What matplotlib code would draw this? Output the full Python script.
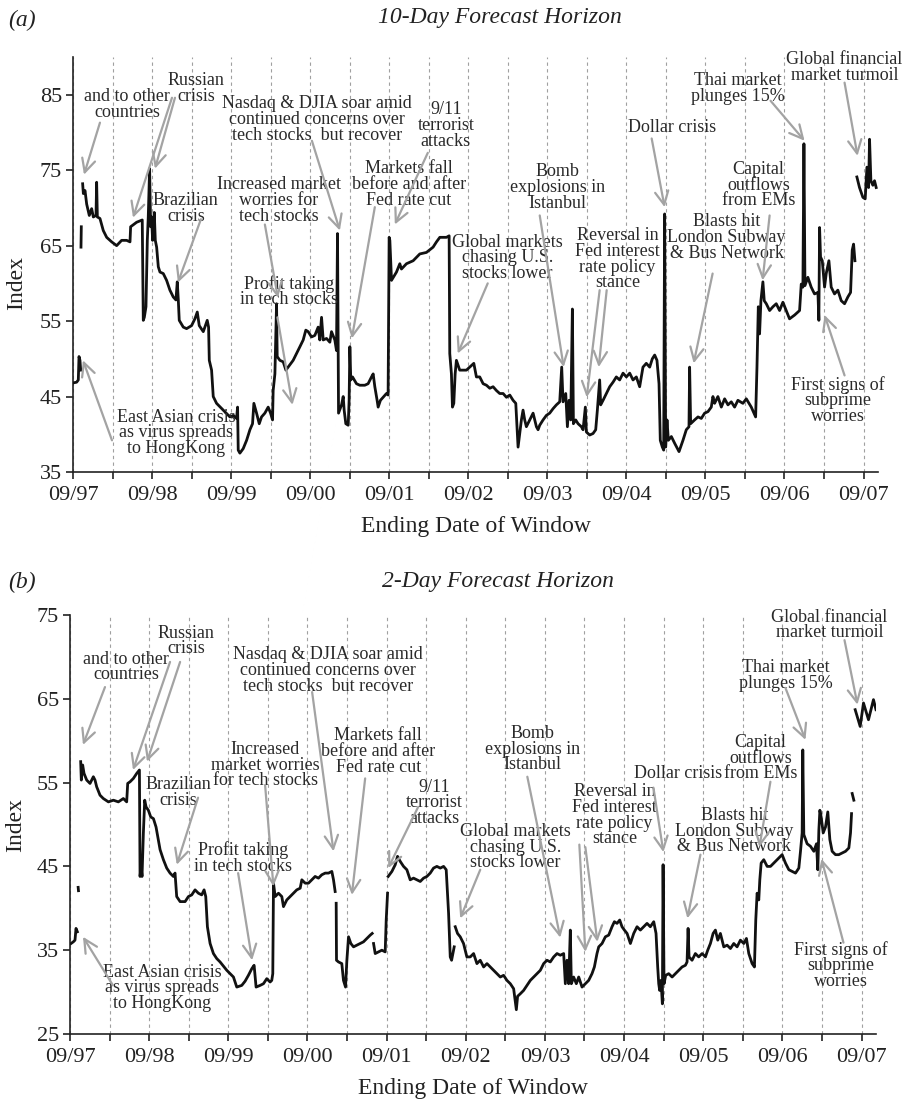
import numpy as np
import matplotlib
matplotlib.use("Agg")
import matplotlib.pyplot as plt

plt.rcParams['font.family'] = ['Liberation Serif', 'DejaVu Serif']

nan = np.nan

# ---- panel (a): 10-day forecast horizon, decimal year / index value ----
a_year = [1997.663, 1997.713, 1997.734, 1997.743, 1997.755, 1997.764, nan,
          1997.768, 1997.772, nan,
          1997.789, 1997.798, 1997.819, 1997.840, 1997.873, 1997.903, 1997.924, 1997.958, 1997.966, 1997.975,
          1998.008, 1998.050, 1998.093, 1998.156, 1998.219, 1998.282, 1998.345, 1998.388, 1998.396, 1998.472,
          1998.543, 1998.556, 1998.569, 1998.590, 1998.607, 1998.619, 1998.636, 1998.649, 1998.661, 1998.674,
          1998.695, 1998.708, 1998.725, 1998.746, 1998.767, 1998.809, 1998.851, 1998.893, 1998.935, 1998.969,
          1998.986, 1998.999, 1999.011, 1999.062, 1999.104, 1999.167, 1999.209, 1999.239, 1999.264, 1999.315,
          1999.365, 1999.382, 1999.391, 1999.420, 1999.441, 1999.483, 1999.567, 1999.652, 1999.694, 1999.736,
          1999.749, 1999.757, 1999.778, 1999.820, 1999.863, 1999.905, 1999.938, 1999.955, 1999.989, 2000.023,
          2000.052, 2000.094, 2000.136, 2000.166, 2000.191, 2000.199, 2000.221, 2000.242, 2000.250, 2000.284,
          2000.326, 2000.360, 2000.410, 2000.452, 2000.495, 2000.537, 2000.579, 2000.612, 2000.642, 2000.684,
          2000.726, 2000.768, 2000.789, 2000.811, 2000.832, 2000.874, 2000.916, 2000.937, 2000.979, 2001.000,
          2001.013, 2001.026, 2001.064, 2001.085, 2001.097, 2001.118, 2001.148, 2001.160, 2001.169, 2001.181,
          2001.203, 2001.253, 2001.295, 2001.358, 2001.400, 2001.443, 2001.464, 2001.485, 2001.514, 2001.527,
          2001.556, 2001.590, 2001.632, 2001.653, 2001.662, 2001.666, 2001.675, 2001.696, 2001.759, 2001.801,
          2001.822, 2001.885, 2001.970, 2002.054, 2002.138, 2002.222, 2002.265, 2002.307, 2002.391, 2002.425,
          2002.433, 2002.454, 2002.467, 2002.484, 2002.501, 2002.517, 2002.559, 2002.644, 2002.686, 2002.737,
          2002.770, 2002.812, 2002.855, 2002.897, 2002.939, 2002.981, 2003.023, 2003.065, 2003.108, 2003.150,
          2003.192, 2003.234, 2003.268, 2003.297, 2003.318, 2003.339, 2003.360, 2003.381, 2003.402, 2003.445,
          2003.487, 2003.529, 2003.550, 2003.571, 2003.613, 2003.655, 2003.697, 2003.740, 2003.782, 2003.824,
          2003.849, 2003.866, 2003.900, 2003.921, 2003.942, 2003.963, 2003.984, 2003.997, 2004.026, 2004.056,
          2004.098, 2004.119, 2004.148, 2004.161, 2004.203, 2004.245, 2004.279, 2004.300, 2004.329, 2004.342,
          2004.372, 2004.414, 2004.456, 2004.498, 2004.540, 2004.582, 2004.625, 2004.667, 2004.709, 2004.751,
          2004.793, 2004.835, 2004.877, 2004.919, 2004.962, 2004.995, 2005.025, 2005.054, 2005.080, 2005.096,
          2005.122, 2005.139, 2005.151, 2005.164, 2005.181, 2005.198, 2005.236, 2005.278, 2005.333, 2005.383,
          2005.425, 2005.459, 2005.467, 2005.480, 2005.530, 2005.573, 2005.615, 2005.657, 2005.699, 2005.741,
          2005.762, 2005.783, 2005.825, 2005.868, 2005.910, 2005.952, 2005.994, 2006.036, 2006.078, 2006.141,
          2006.184, 2006.247, 2006.302, 2006.319, 2006.336, 2006.352, 2006.369, 2006.394, 2006.411, 2006.437,
          2006.479, 2006.521, 2006.563, 2006.605, 2006.647, 2006.689, 2006.731, 2006.795, 2006.858, 2006.879,
          2006.900, 2006.913, 2006.926, 2006.963, 2007.005, 2007.047, 2007.090, 2007.102, 2007.111, 2007.123,
          2007.145, 2007.174, 2007.195, 2007.229, 2007.258, 2007.300, 2007.342, 2007.385, 2007.427, 2007.469,
          2007.503, 2007.524, 2007.541, 2007.558, nan,
          2007.583, 2007.616, 2007.659, 2007.688, 2007.710, 2007.731, 2007.743, 2007.760, 2007.785, 2007.806,
          2007.827]
a_val = [46.8, 46.9, 47.2, 50.3, 49.8, 48.5, nan,
         64.8, 67.5, nan,
         73.2, 71.9, 72.3, 70.5, 69.0, 69.9, 68.8, 69.0, 73.4, 68.8,
         68.6, 67.0, 66.1, 65.5, 65.0, 65.7, 65.7, 65.5, 67.5, 68.1,
         68.4, 55.1, 55.5, 56.9, 65.7, 68.8, 75.2, 67.5, 68.8, 65.7,
         69.4, 65.7, 64.8, 62.2, 61.5, 61.3, 60.4, 59.1, 58.2, 57.8,
         60.2, 57.8, 55.1, 54.2, 54.0, 54.4, 55.3, 56.2, 54.4, 53.6,
         55.1, 54.2, 49.8, 48.5, 45.0, 44.1, 43.2, 42.3, 42.5, 42.1,
         43.6, 37.9, 37.5, 38.1, 39.2, 40.6, 41.4, 44.1, 42.8, 41.4,
         42.3, 42.8, 43.6, 42.8, 41.9, 45.8, 48.0, 57.3, 50.3, 49.8,
         49.6, 48.5, 49.2, 49.8, 50.7, 51.6, 52.5, 53.8, 53.6, 52.9,
         53.1, 54.2, 52.5, 55.5, 52.5, 52.7, 52.2, 53.6, 52.5, 51.1,
         66.6, 42.8, 43.9, 45.0, 43.2, 41.4, 41.2, 44.5, 51.6, 47.2,
         47.6, 46.7, 46.5, 46.5, 46.7, 47.6, 48.0, 46.3, 44.5, 43.6,
         44.5, 44.9, 45.4, 45.2, 60.4, 66.1, 65.7, 60.4, 61.5, 62.6,
         61.9, 62.6, 63.0, 63.9, 64.1, 64.8, 65.5, 66.1, 66.1, 66.3,
         50.7, 48.0, 43.6, 44.1, 48.0, 49.8, 48.5, 48.5, 48.9, 49.4,
         47.6, 47.6, 46.7, 46.5, 46.1, 46.3, 45.8, 45.4, 45.4, 44.9,
         45.2, 44.5, 44.1, 38.3, 40.1, 41.9, 43.2, 41.9, 41.0, 41.9,
         42.8, 41.0, 40.6, 41.2, 41.9, 42.5, 42.8, 43.4, 43.9, 44.3,
         48.9, 44.3, 45.4, 41.0, 44.5, 41.9, 56.6, 41.4, 41.9, 41.4,
         41.0, 40.6, 43.6, 40.3, 39.9, 40.1, 40.6, 43.2, 47.2, 43.9,
         44.5, 45.4, 46.3, 46.9, 47.6, 47.2, 48.1, 47.6, 48.1, 47.2,
         47.6, 46.3, 48.9, 49.4, 48.9, 50.0, 50.5, 49.8, 46.7, 39.2,
         38.3, 37.9, 69.2, 38.3, 41.9, 39.2, 39.7, 38.8, 37.7, 39.2,
         40.6, 41.0, 48.9, 41.4, 41.9, 42.3, 42.1, 42.8, 43.0, 43.6,
         45.0, 44.1, 45.0, 43.6, 44.7, 43.9, 44.3, 43.6, 44.5, 44.1,
         44.7, 43.6, 42.3, 48.9, 56.9, 53.3, 57.7, 60.2, 57.7, 57.3,
         56.4, 56.9, 57.3, 56.4, 57.5, 56.4, 55.3, 55.8, 56.4, 59.9,
         59.5, 78.5, 59.7, 60.8, 59.5, 58.6, 58.8, 55.1, 67.4, 63.5,
         63.0, 59.5, 61.3, 63.0, 59.5, 58.6, 59.1, 57.7, 57.3, 58.2,
         58.8, 64.4, 65.2, 63.0, nan,
         74.1, 72.7, 71.4, 71.2, 75.4, 72.7, 79.1, 73.6, 73.0, 73.6,
         72.7]

# ---- panel (b): 2-day forecast horizon ----
b_year = [1997.680, 1997.709, 1997.730, 1997.743, 1997.760, nan,
          1997.770, 1997.774, nan,
          1997.802, 1997.810, 1997.827, 1997.844, 1997.878, 1997.920, 1997.962, 1997.983, 1998.004, 1998.046,
          1998.088, 1998.152, 1998.215, 1998.278, 1998.341, 1998.383, 1998.396, 1998.426, 1998.468, 1998.510,
          1998.544, 1998.552, 1998.565, 1998.577, 1998.594, 1998.611, 1998.628, 1998.657, 1998.687, 1998.721,
          1998.754, 1998.784, 1998.805, 1998.847, 1998.889, 1998.931, 1998.973, 1998.994, 1999.015, 1999.058,
          1999.121, 1999.163, 1999.205, 1999.247, 1999.289, 1999.331, 1999.361, 1999.382, 1999.403, 1999.437,
          1999.479, 1999.521, 1999.563, 1999.605, 1999.648, 1999.690, 1999.732, 1999.774, 1999.837, 1999.879,
          1999.921, 1999.964, 1999.993, 2000.018, 2000.069, 2000.111, 2000.153, 2000.195, 2000.216, 2000.229,
          2000.238, 2000.259, 2000.301, 2000.343, 2000.364, 2000.406, 2000.448, 2000.490, 2000.532, 2000.575,
          2000.596, 2000.638, 2000.680, 2000.722, 2000.764, 2000.806, 2000.848, 2000.891, 2000.933, 2000.975,
          2000.996, 2001.017, nan,
          2001.030, 2001.034, 2001.059, 2001.101, 2001.122, 2001.148, 2001.165, 2001.186, 2001.215, 2001.249,
          2001.291, 2001.333, 2001.375, 2001.418, 2001.460, 2001.485, nan,
          2001.502, 2001.523, 2001.565, 2001.607, 2001.649, 2001.662, 2001.679, nan,
          2001.687, 2001.734, 2001.776, 2001.805, 2001.839, 2001.881, 2001.923, 2001.965, 2002.007, 2002.050,
          2002.092, 2002.134, 2002.176, 2002.218, 2002.260, 2002.302, 2002.345, 2002.387, 2002.420, 2002.450,
          2002.471, 2002.488, 2002.504, 2002.521, nan,
          2002.534, 2002.563, 2002.597, 2002.639, 2002.681, 2002.724, 2002.766, 2002.808, 2002.850, 2002.893,
          2002.935, 2002.977, 2003.019, 2003.061, 2003.103, 2003.145, 2003.187, 2003.230, 2003.272, 2003.306,
          2003.322, 2003.356, 2003.398, 2003.440, 2003.483, 2003.525, 2003.567, 2003.609, 2003.651, 2003.693,
          2003.735, 2003.778, 2003.820, 2003.862, 2003.904, 2003.925, 2003.946, 2003.967, 2003.988, 2004.001,
          2004.030, 2004.064, 2004.094, 2004.136, 2004.178, 2004.220, 2004.262, 2004.292, 2004.325, 2004.347,
          2004.389, 2004.431, 2004.473, 2004.515, 2004.545, 2004.578, 2004.612, 2004.641, 2004.671, 2004.705,
          2004.747, 2004.789, 2004.831, 2004.873, 2004.915, 2004.957, 2004.999, 2005.042, 2005.071, 2005.092,
          2005.105, 2005.117, 2005.134, 2005.151, 2005.160, 2005.172, 2005.193, 2005.231, 2005.274, 2005.316,
          2005.358, 2005.400, 2005.442, 2005.463, 2005.476, 2005.488, 2005.526, 2005.568, 2005.610, 2005.653,
          2005.695, 2005.724, 2005.758, 2005.792, 2005.821, 2005.851, 2005.884, 2005.927, 2005.969, 2006.011,
          2006.053, 2006.095, 2006.137, 2006.180, 2006.213, 2006.243, 2006.285, 2006.314, 2006.331, 2006.348,
          2006.369, 2006.382, 2006.399, 2006.432, 2006.475, 2006.517, 2006.559, 2006.601, 2006.643, 2006.664,
          2006.706, 2006.749, 2006.791, 2006.833, 2006.875, 2006.896, 2006.917, 2006.925, 2006.938, 2006.980,
          2007.022, 2007.065, 2007.098, 2007.115, 2007.128, 2007.141, 2007.157, 2007.183, 2007.212, 2007.241,
          2007.267, 2007.296, 2007.338, 2007.380, 2007.423, 2007.465, 2007.507, 2007.528, 2007.541, nan,
          2007.549, 2007.570, nan,
          2007.587, 2007.650, 2007.692, 2007.755, 2007.818, 2007.850]
b_val = [35.8, 36.0, 36.2, 37.6, 37.2, nan,
         42.5, 42.1, nan,
         57.5, 55.3, 57.1, 56.1, 55.3, 54.9, 55.7, 55.3, 54.5, 53.5,
         53.1, 52.7, 52.9, 52.7, 53.1, 52.7, 54.9, 55.1, 55.5, 56.1,
         56.5, 43.8, 45.0, 43.8, 49.0, 52.9, 52.1, 51.7, 50.9, 50.7,
         49.7, 48.1, 47.0, 45.8, 44.8, 44.2, 43.8, 44.2, 41.4, 40.8,
         40.8, 41.4, 41.6, 42.2, 41.8, 41.6, 42.2, 41.4, 37.8, 35.8,
         34.6, 34.0, 33.6, 33.1, 32.6, 32.2, 31.8, 30.6, 30.8, 31.3,
         32.0, 32.8, 33.2, 30.6, 30.8, 31.0, 31.6, 31.2, 31.4, 32.2,
         43.0, 41.4, 41.8, 41.4, 40.2, 41.0, 41.4, 41.8, 42.2, 42.4,
         43.4, 43.0, 43.0, 43.4, 43.8, 43.6, 44.0, 44.2, 44.2, 44.4,
         43.4, 42.0, nan,
         40.6, 33.8, 33.6, 33.4, 31.4, 30.6, 33.8, 36.6, 35.8, 35.4,
         35.6, 35.8, 36.0, 36.4, 36.8, 37.0, nan,
         35.8, 34.6, 34.8, 35.0, 34.8, 38.6, 41.8, nan,
         43.8, 44.4, 45.2, 46.2, 45.6, 45.0, 44.6, 43.4, 43.6, 43.4,
         43.2, 43.6, 43.8, 44.2, 44.8, 45.0, 44.8, 45.0, 44.6, 39.4,
         34.2, 33.8, 34.6, 35.4, nan,
         37.8, 37.0, 36.6, 35.8, 34.2, 34.2, 34.6, 33.4, 33.8, 33.0,
         33.4, 33.0, 32.6, 32.2, 31.8, 32.0, 31.4, 31.0, 30.4, 27.9,
         29.5, 29.8, 30.2, 30.8, 31.4, 31.8, 32.2, 32.6, 33.4, 33.8,
         33.6, 34.2, 34.6, 34.4, 34.6, 31.0, 33.8, 31.0, 37.4, 31.0,
         31.8, 31.0, 31.8, 30.6, 31.0, 31.4, 32.2, 33.0, 34.6, 35.4,
         35.8, 36.6, 36.8, 37.8, 38.4, 38.2, 38.6, 37.8, 37.4, 37.0,
         35.8, 37.0, 37.8, 37.4, 37.8, 38.2, 37.8, 38.4, 37.0, 33.0,
         31.0, 30.2, 31.4, 28.6, 45.2, 31.0, 32.0, 32.2, 31.8, 32.2,
         32.6, 33.0, 33.2, 33.6, 37.6, 34.2, 33.8, 34.6, 34.2, 34.6,
         34.2, 35.0, 35.8, 37.0, 37.4, 36.2, 37.0, 35.4, 35.6, 35.2,
         35.8, 35.4, 36.2, 35.8, 36.4, 34.6, 33.4, 33.0, 38.6, 41.8,
         41.0, 43.4, 45.4, 45.8, 45.0, 45.0, 45.4, 45.8, 46.2, 46.4,
         45.4, 44.6, 44.4, 44.2, 44.8, 46.8, 49.0, 58.9, 48.8, 47.7,
         47.4, 46.8, 47.7, 44.6, 49.3, 51.7, 50.9, 49.0, 49.7, 51.5,
         48.2, 46.8, 46.4, 46.4, 46.6, 46.8, 47.2, 49.0, 51.3, nan,
         53.7, 52.9, nan,
         63.7, 61.7, 64.5, 62.5, 64.9, 63.7]

# ---- event labels: (text, x, y) and arrows: (tail x, tail y, head x, head y) ----
a_notes = [
    ("and to other\ncountries", 1998.350, 83.7),
    ("Russian\ncrisis", 1999.222, 85.8),
    ("Brazilian\ncrisis", 1999.095, 69.9),
    ("Increased market\nworries for\ntech stocks", 2000.271, 71.0),
    ("Nasdaq & DJIA soar amid\ncontinued concerns over\ntech stocks  but recover", 2000.752, 81.7),
    ("9/11\nterrorist\nattacks", 2002.383, 80.9),
    ("Markets fall\nbefore and after\nFed rate cut", 2001.915, 73.1),
    ("Profit taking\nin tech stocks", 2000.405, 58.9),
    ("East Asian crisis\nas virus spreads\nto HongKong", 1998.969, 40.2),
    ("Global markets\nchasing U.S.\nstocks lower", 2003.166, 63.4),
    ("Bomb\nexplosions in\nIstanbul", 2003.798, 72.7),
    ("Reversal in\nFed interest\nrate policy\nstance", 2004.557, 63.2),
    ("Dollar crisis", 2005.240, 80.6),
    ("Blasts hit\nLondon Subway\n& Bus Network", 2005.935, 66.1),
    ("Capital\noutflows\nfrom EMs", 2006.339, 73.0),
    ("Thai market\nplunges 15%", 2006.074, 85.8),
    ("Global financial\nmarket turmoil", 2007.427, 88.6),
    ("First signs of\nsubprime\nworries", 2007.338, 44.5),
]
a_arrows = [
    (1998.008, 81.3, 1997.806, 74.4),
    (1998.919, 84.6, 1998.426, 68.7),
    (1998.957, 84.6, 1998.704, 75.2),
    (1999.285, 68.5, 1998.994, 60.1),
    (2000.094, 67.8, 2000.259, 58.1),
    (2000.689, 78.9, 2001.043, 67.0),
    (2002.155, 77.3, 2001.738, 67.8),
    (2001.485, 70.1, 2001.194, 52.7),
    (2000.253, 55.5, 2000.443, 43.9),
    (1998.160, 39.2, 1997.793, 49.8),
    (2002.913, 60.0, 2002.534, 50.7),
    (2003.571, 69.0, 2003.874, 48.9),
    (2004.329, 59.1, 2004.165, 44.9),
    (2004.418, 59.1, 2004.317, 48.9),
    (2004.987, 79.2, 2005.151, 70.1),
    (2005.758, 61.3, 2005.518, 49.4),
    (2006.479, 69.0, 2006.390, 60.4),
    (2006.491, 84.2, 2006.921, 78.9),
    (2007.427, 86.6, 2007.591, 76.9),
    (2007.427, 47.8, 2007.174, 55.8),
]

b_notes = [
    ("and to other\ncountries", 1998.375, 68.8),
    ("Russian\ncrisis", 1999.133, 71.9),
    ("Brazilian\ncrisis", 1999.032, 53.8),
    ("Increased\nmarket worries\nfor tech stocks", 2000.132, 57.1),
    ("Nasdaq & DJIA soar amid\ncontinued concerns over\ntech stocks  but recover", 2000.929, 68.4),
    ("Markets fall\nbefore and after\nFed rate cut", 2001.561, 58.7),
    ("9/11\nterrorist\nattacks", 2002.269, 52.6),
    ("Profit taking\nin tech stocks", 1999.854, 46.0),
    ("East Asian crisis\nas virus spreads\nto HongKong", 1998.830, 30.5),
    ("Global markets\nchasing U.S.\nstocks lower", 2003.293, 47.3),
    ("Bomb\nexplosions in\nIstanbul", 2003.508, 59.0),
    ("Reversal in\nFed interest\nrate policy\nstance", 2004.544, 51.1),
    ("Dollar crisis", 2005.353, 56.1),
    ("Blasts hit\nLondon Subway\n& Bus Network", 2006.061, 49.2),
    ("Capital\noutflows\nfrom EMs", 2006.390, 57.9),
    ("Thai market\nplunges 15%", 2006.706, 67.8),
    ("Global financial\nmarket turmoil", 2007.263, 73.8),
    ("First signs of\nsubprime\nworries", 2007.401, 33.2),
]
b_arrows = [
    (1998.109, 66.4, 1997.831, 59.5),
    (1998.931, 69.4, 1998.463, 56.5),
    (1999.058, 69.4, 1998.640, 57.5),
    (1999.285, 53.2, 1999.016, 45.2),
    (2000.132, 54.7, 2000.237, 42.6),
    (2000.726, 65.8, 2000.996, 46.8),
    (2001.396, 55.5, 2001.228, 41.6),
    (2002.066, 52.1, 2001.687, 44.8),
    (1999.791, 44.2, 1999.968, 33.8),
    (1998.210, 30.8, 1997.831, 36.6),
    (2002.850, 44.6, 2002.597, 38.8),
    (2003.445, 55.7, 2003.861, 36.5),
    (2004.102, 47.6, 2004.178, 34.8),
    (2004.178, 47.3, 2004.330, 36.0),
    (2005.038, 54.4, 2005.164, 46.7),
    (2005.632, 46.4, 2005.467, 38.8),
    (2006.516, 55.1, 2006.377, 47.3),
    (2006.706, 66.3, 2006.959, 60.1),
    (2007.452, 72.0, 2007.616, 64.3),
    (2007.439, 35.9, 2007.161, 45.9),
]

sept_ticks = [1997.667 + i for i in range(11)]
sept_labels = ["09/%02d" % ((97 + i) % 100) for i in range(11)]
march_ticks = [1998.167 + i for i in range(10)]


def draw_panel(ax, years, vals, yticks, ylim, notes, arrows, ylab_xy):
    ax.set_xlim(1997.667, 2007.85)
    ax.set_ylim(*ylim)
    ax.plot(years, vals, color='#111111', lw=2.0, zorder=3)

    ax.set_xticks(sept_ticks)
    ax.set_xticklabels(sept_labels)
    ax.set_xticks(march_ticks, minor=True)
    ax.set_yticks(yticks)
    ax.xaxis.grid(True, which='both', color='#a0a0a0', ls=(0, (3, 3)), lw=0.8)
    ax.set_axisbelow(True)

    for s in ['top', 'right']:
        ax.spines[s].set_visible(False)
    for s in ['left', 'bottom']:
        ax.spines[s].set_linewidth(1.2)
        ax.spines[s].set_color('#222222')
    ax.tick_params(which='both', direction='out', length=5, width=1.2,
                   colors='#222222', labelsize=16)
    ax.tick_params(axis='x', pad=5)
    ax.tick_params(axis='y', pad=3)

    ax.set_xlabel('Ending Date of Window', fontsize=17, color='#222222', labelpad=8)
    ax.set_ylabel('Index', fontsize=17, color='#222222')
    ax.yaxis.set_label_coords(*ylab_xy)

    for txt, x, y in notes:
        ax.text(x, y, txt, ha='center', va='center', fontsize=13,
                color='#2a2a2a', linespacing=0.9, zorder=4)
    for tx, ty, hx, hy in arrows:
        ax.annotate('', xy=(hx, hy), xytext=(tx, ty),
                    arrowprops=dict(arrowstyle='->,head_length=0.8,head_width=0.4',
                                    color='#a3a3a3', lw=1.6, shrinkA=0, shrinkB=0,
                                    mutation_scale=12),
                    zorder=5)


fig = plt.figure(figsize=(9.06, 11.02), dpi=100)

ax1 = fig.add_axes([73 / 906, 1 - 472 / 1102, 805 / 906, 415 / 1102])
draw_panel(ax1, a_year, a_val, [35, 45, 55, 65, 75, 85], (35, 90), a_notes, a_arrows, (-0.057, 0.455))

ax2 = fig.add_axes([70 / 906, 1 - 1034 / 1102, 806 / 906, 419 / 1102])
draw_panel(ax2, b_year, b_val, [25, 35, 45, 55, 65, 75], (25, 75), b_notes, b_arrows, (-0.055, 0.5))

fig.text(8 / 906, 1 - 20 / 1102, '(a)', fontsize=17, style='italic', va='center', color='#222222')
fig.text(500 / 906, 1 - 18 / 1102, '10-Day Forecast Horizon', fontsize=17, style='italic',
         ha='center', va='center', color='#222222')
fig.text(8 / 906, 1 - 582 / 1102, '(b)', fontsize=17, style='italic', va='center', color='#222222')
fig.text(498 / 906, 1 - 582 / 1102, '2-Day Forecast Horizon', fontsize=17, style='italic',
         ha='center', va='center', color='#222222')

fig.savefig('out.png', dpi=100)
